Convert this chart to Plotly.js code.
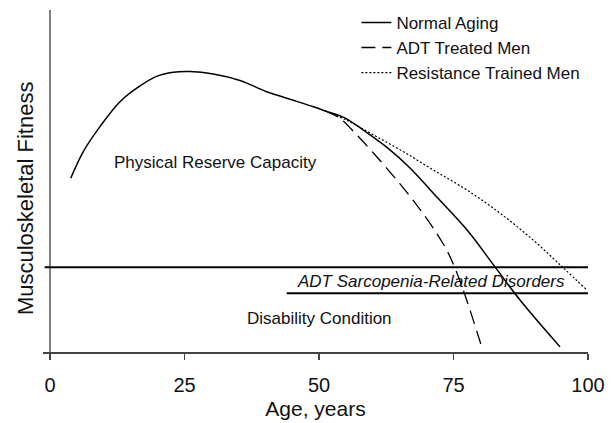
<!DOCTYPE html>
<html>
<head>
<meta charset="utf-8">
<script src="https://cdn.plot.ly/plotly-3.0.1.min.js"></script>
<style>html,body{margin:0;padding:0;background:#fff;}#chart{width:614px;height:423px;}</style>
</head>
<body>
<div id="chart"></div>
<script>
// Shared curve (Normal Aging, up to the branch point near age 51)
const commonAge = [3.85, 6.19, 9.29, 13.01, 16.73, 19.83, 22.92, 26.02, 30.35, 35.32, 40.28, 44.61, 48.94, 51.12];
const commonFit = [50.8, 58.6, 65.9, 73.2, 77.8, 80.6, 81.8, 82.0, 81.3, 79.4, 76.1, 73.9, 71.7, 70.5];

// Normal aging decline after branch
const normalAgeTail = [54.6, 58.23, 62.58, 66.92, 71.25, 77.45, 82.71, 87.36, 94.8];
const normalFitTail = [68.6, 64.9, 59.9, 53.8, 46.4, 35.8, 24.9, 15.2, 1.5];

// ADT treated men
const adtAge = [51.12, 53.9, 57.01, 60.73, 64.44, 67.23, 69.09, 71.25, 73.74, 75.28, 77.45, 80.24];
const adtFit = [70.5, 68.3, 63.5, 57.1, 50.3, 44.9, 41.0, 36.2, 29.8, 24.5, 15.2, 1.5];

// Resistance trained men
const rtAge = [51.12, 55.15, 60.09, 65.67, 71.25, 77.45, 83.64, 89.83, 95.41, 99.8];
const rtFit = [70.5, 67.8, 63.5, 58.6, 53.2, 47.4, 40.6, 32.7, 24.6, 18.1];

const seriesNames = ['Normal Aging', 'ADT Treated Men', 'Resistance Trained Men'];
const tickVals = [0, 25, 50, 75, 100];
const tickText = ['0', '25', '50', '75', '100'];

// Threshold lines
const sarcopeniaUpper = 24.8;
const sarcopeniaLower = 17.2;
const sarcopeniaStartAge = 44;

const FONT = 'Liberation Sans, Arial, Helvetica, sans-serif';

const traces = [
  {x: commonAge.concat(normalAgeTail), y: commonFit.concat(normalFitTail), name: seriesNames[0],
   mode: 'lines', line: {color: '#000', width: 1.5, shape: 'spline', smoothing: 1}},
  {x: adtAge, y: adtFit, name: seriesNames[1], mode: 'lines',
   line: {color: '#000', width: 1.3, dash: '14px,7px', shape: 'spline', smoothing: 1}},
  {x: rtAge, y: rtFit, name: seriesNames[2], mode: 'lines',
   line: {color: '#000', width: 1.2, dash: '2px,2px', shape: 'spline', smoothing: 1}}
];

const layout = {
  width: 614, height: 423,
  margin: {l: 43, r: 26, t: 10, b: 71, autoexpand: false},
  paper_bgcolor: '#fff', plot_bgcolor: '#fff',
  font: {family: FONT, color: '#111'},
  showlegend: true,
  legend: {x: 0.575, y: 1.015, xanchor: 'left', yanchor: 'top', bgcolor: 'rgba(0,0,0,0)',
           font: {size: 17, family: FONT, color: '#111'}, tracegroupgap: 0},
  xaxis: {range: [-1.3, 100], showgrid: false, zeroline: false, showline: true,
          linecolor: '#444', linewidth: 1.5, ticks: 'outside', ticklen: 6, tickwidth: 1.5,
          tickcolor: '#444', tickvals: tickVals, ticktext: tickText, ticklabelstandoff: 8,
          tickfont: {size: 20, family: FONT, color: '#111'},
          title: {text: 'Age, years', font: {size: 21, family: FONT, color: '#111'}, standoff: 7}},
  yaxis: {range: [0, 100], showgrid: false, zeroline: false, showline: false,
          showticklabels: false, ticks: ''},
  shapes: [
    {type: 'line', xref: 'x', yref: 'y', x0: 0, x1: 0, y0: 0, y1: 100, line: {color: '#000', width: 1}},
    {type: 'line', xref: 'x', yref: 'y', x0: -1, x1: 100, y0: sarcopeniaUpper, y1: sarcopeniaUpper, line: {color: '#000', width: 2}},
    {type: 'line', xref: 'x', yref: 'y', x0: sarcopeniaStartAge, x1: 100, y0: sarcopeniaLower, y1: sarcopeniaLower, line: {color: '#000', width: 2}}
  ],
  annotations: [
    {xref: 'paper', yref: 'paper', x: -0.033, y: 0.45, text: 'Musculoskeletal Fitness', textangle: -90,
     showarrow: false, xanchor: 'center', yanchor: 'middle', font: {size: 22, family: FONT, color: '#111'}},
    {xref: 'x', yref: 'y', x: 30.8, y: 55.3, text: 'Physical Reserve Capacity', showarrow: false,
     font: {size: 17, family: FONT, color: '#111'}},
    {xref: 'x', yref: 'y', x: 70.8, y: 20.6, text: '<i>ADT Sarcopenia-Related Disorders</i>', showarrow: false,
     font: {size: 17, family: FONT, color: '#111'}},
    {xref: 'x', yref: 'y', x: 50.0, y: 9.9, text: 'Disability Condition', showarrow: false,
     font: {size: 17, family: FONT, color: '#111'}}
  ]
};

Plotly.newPlot('chart', traces, layout, {staticPlot: true, displayModeBar: false});
</script>
</body>
</html>
